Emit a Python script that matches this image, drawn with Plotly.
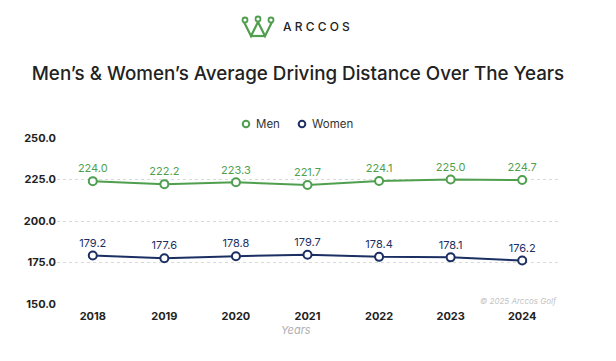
import plotly.graph_objects as go

years = ["2018", "2019", "2020", "2021", "2022", "2023", "2024"]
men = [224.0, 222.2, 223.3, 221.7, 224.1, 225.0, 224.7]
women = [179.2, 177.6, 178.8, 179.7, 178.4, 178.1, 176.2]
y_ticks = [150, 175, 200, 225, 250]
series_names = ["Men", "Women"]

GREEN = "#4f9f4f"
NAVY = "#1c2f63"

OFF = 8  # page body margin
W, H = 600, 345
L = 57 - OFF
R = W - (558 - OFF)
T = 138 - OFF
B = H - (304 - OFF)
PW, PH = W - L - R, H - T - B


def px(x):
    return (x - OFF - L) / PW


def py(y):
    return (H - B - (y - OFF)) / PH


fig = go.Figure()
for name, vals, col in [(series_names[0], men, GREEN), (series_names[1], women, NAVY)]:
    fig.add_trace(go.Scatter(
        x=years, y=vals, name=name, mode="lines+markers+text", showlegend=False,
        line=dict(color=col, width=2),
        marker=dict(symbol="circle", size=8, color="white", line=dict(color=col, width=2)),
        text=[f"{v:.1f}" for v in vals], textposition="top center",
        textfont=dict(color=col, size=11, family="Inter"),
        cliponaxis=False,
    ))

# custom legend (marker only, compact)
for name, col, mx in [(series_names[0], GREEN, 246), (series_names[1], NAVY, 302)]:
    fig.add_shape(type="circle", xref="paper", yref="paper",
                  x0=px(mx - 3.3), x1=px(mx + 3.3), y0=py(124 - 3.3), y1=py(124 + 3.3),
                  line=dict(color=col, width=2), fillcolor="white")
    fig.add_annotation(text=name, xref="paper", yref="paper", x=px(mx + 8), y=py(124),
                       xanchor="left", yanchor="middle", showarrow=False,
                       font=dict(family="Inter", size=11.5, color="#333333"))

# crown logo
crown = (f"M {px(244)},{py(22)} L {px(251)},{py(36)} L {px(258)},{py(22)} "
         f"L {px(265)},{py(36)} L {px(272)},{py(22)}")
fig.add_shape(type="path", xref="paper", yref="paper", path=crown,
              line=dict(color=GREEN, width=2.2))
fig.add_shape(type="line", xref="paper", yref="paper", x0=px(250), x1=px(266),
              y0=py(36), y1=py(36), line=dict(color=GREEN, width=2.2))
for cx, cy in [(245, 20), (258, 19), (271, 20)]:
    fig.add_shape(type="circle", xref="paper", yref="paper",
                  x0=px(cx - 2.5), x1=px(cx + 2.5), y0=py(cy - 2.5), y1=py(cy + 2.5),
                  line=dict(color=GREEN, width=1.8), fillcolor="white")
fig.add_annotation(text="A R C C O S", xref="paper", yref="paper", x=px(281), y=py(27),
                   xanchor="left", yanchor="middle", showarrow=False,
                   font=dict(family="Inter", size=12, color="#222222", weight=500))

fig.add_annotation(text="<i>Years</i>", xref="paper", yref="paper", x=px(296), y=py(330),
                   xanchor="center", yanchor="middle", showarrow=False,
                   font=dict(family="Inter", size=11, color="#b0b0b0"))
fig.add_annotation(text="<i>© 2025 Arccos Golf</i>", xref="paper", yref="paper", x=px(559), y=py(301),
                   xanchor="right", yanchor="middle", showarrow=False,
                   font=dict(family="Inter", size=8, color="#c4c4c4"))

fig.update_layout(
    width=W, height=H,
    margin=dict(l=L, r=R, t=T, b=B, autoexpand=False),
    paper_bgcolor="white", plot_bgcolor="white",
    title=dict(text="Men’s & Women’s Average Driving Distance Over The Years",
               x=px(298), xanchor="center", xref="paper", y=1 - (73 - OFF) / H, yanchor="middle",
               font=dict(family="Inter", size=18.8, color="#222222", weight=500)),
    showlegend=False,
    xaxis=dict(type="category", range=[-0.5, 6.5], showgrid=False, showline=False, zeroline=False,
               tickfont=dict(family="Inter", size=11, color="#222222", weight="bold"),
               ticks="", ticklabelstandoff=4),
    yaxis=dict(range=[150, 250], tickvals=y_ticks, tickformat=".1f",
               showgrid=True, gridcolor="#d9d9d9", griddash="dot", gridwidth=1,
               zeroline=False, showline=False, ticks="",
               tickfont=dict(family="Inter", size=11, color="#222222", weight="bold")),
)

fig.write_html("out.html")
